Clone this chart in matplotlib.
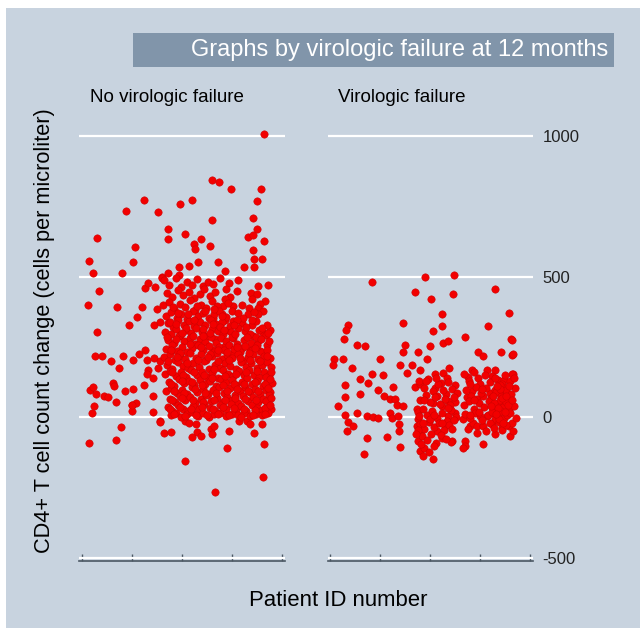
import matplotlib
matplotlib.use("Agg")
import matplotlib.pyplot as plt
from matplotlib.patches import Rectangle

plt.rcParams["font.family"] = ["Liberation Sans", "DejaVu Sans"]
plt.rcParams["axes.unicode_minus"] = False

# values: (patient id position, CD4 change)
no_failure_pts = [
    # sparse upper part
    (910, 1008), (648, 844), (685, 839), (747, 813), (897, 813), (310, 774), (490, 760),
    (548, 774), (873, 769), (218, 734), (380, 729), (648, 703), (853, 708), (428, 671),
    (873, 671), (73, 637), (428, 635), (515, 653), (593, 635), (560, 618), (567, 600),
    (828, 640), (853, 648), (910, 627), (267, 605), (642, 609), (853, 596), (37, 556),
    (255, 551), (680, 551), (860, 564), (898, 564), (53, 512), (198, 512), (485, 535),
    (535, 538), (580, 551), (715, 519), (808, 535), (860, 535), (428, 512), (485, 508),
    (398, 499),
    # left sparse part
    (85, 451), (28, 401), (173, 392), (298, 392), (373, 386), (273, 356), (237, 330),
    (361, 330), (390, 338), (73, 303), (315, 460), (332, 478), (365, 464), (398, 497),
    (65, 217), (98, 217), (143, 200), (203, 217), (185, 174), (257, 205), (287, 224),
    (317, 240), (323, 203), (362, 212), (332, 170), (323, 153), (357, 141), (382, 176),
    (390, 200), (40, 99), (57, 109), (68, 82), (112, 76), (132, 72), (168, 56), (153, 123),
    (162, 111), (215, 93), (257, 102), (312, 114), (353, 76), (248, 44), (268, 52),
    (62, 40), (48, 15), (248, 22), (353, 20), (390, -13),
    # below zero
    (248, 43), (193, -33), (37, -91), (168, -81), (390, -17), (412, -57), (445, -52),
    (515, -13), (535, -19), (568, -25), (548, -70), (573, -52), (593, -66), (645, -43),
    (648, -60), (660, -31), (737, -49), (787, -13), (823, -13), (860, -57), (840, -25),
    (898, -25), (515, -155), (723, -110), (910, -96), (903, -212), (665, -265),
    # right upper part
    (782, 490), (932, 472), (882, 466), (735, 478), (773, 451), (843, 443), (873, 439),
    (740, 427), (848, 422), (915, 413), (890, 404), (707, 395), (757, 395), (837, 389),
    (882, 389), (907, 377), (698, 366), (748, 377), (782, 372), (832, 366), (882, 366),
    (657, 354), (715, 348), (757, 342), (798, 336), (848, 330), (940, 312), (907, 301),
    (690, 318), (732, 312), (815, 306), (857, 289), (757, 283), (665, 277), (882, 271),
    (927, 259), (715, 253), (798, 248), (840, 241), (890, 235), (657, 241), (757, 224),
    # dense cloud
    (412, 488), (437, 471), (468, 495), (495, 462), (523, 483), (548, 470), (577, 492),
    (603, 466), (628, 481), (655, 473), (690, 497), (718, 455),
    (425, 441), (452, 429), (481, 452), (506, 436), (533, 447), (560, 425), (588, 439),
    (612, 458), (640, 430), (667, 446), (713, 422),
    (405, 398), (433, 412), (462, 385), (489, 404), (514, 391), (541, 417), (566, 383),
    (594, 401), (621, 389), (648, 413), (676, 396), (730, 408), (798, 401),
    (418, 362), (446, 375), (473, 355), (497, 369), (525, 351), (553, 378), (579, 360),
    (606, 372), (633, 353), (662, 366), (684, 379), (722, 358), (805, 352), (860, 376),
    (428, 334), (457, 322), (482, 347), (509, 329), (537, 341), (561, 324), (590, 338),
    (617, 327), (646, 345), (672, 331), (700, 339), (738, 325), (775, 346), (822, 322),
    (870, 341), (925, 329),
    (415, 305), (443, 297), (470, 316), (492, 293), (519, 310), (546, 299), (572, 318),
    (598, 302), (626, 291), (651, 314), (679, 306), (704, 296), (745, 303), (780, 317),
    (838, 298), (886, 312), (918, 294),
    (432, 275), (458, 266), (486, 288), (511, 270), (538, 283), (563, 262), (592, 279),
    (615, 268), (644, 286), (669, 264), (694, 281), (722, 270), (749, 287), (773, 261),
    (809, 276), (846, 266), (872, 285), (935, 272),
    (420, 244), (449, 256), (476, 236), (501, 251), (527, 232), (552, 247), (581, 258),
    (607, 239), (634, 253), (660, 234), (687, 249), (711, 238), (737, 257), (762, 242),
    (788, 231), (817, 254), (851, 240), (876, 258), (902, 233),
    (411, 214), (438, 226), (464, 205), (490, 219), (517, 208), (542, 228), (569, 212),
    (596, 224), (622, 203), (648, 217), (675, 229), (701, 206), (726, 221), (751, 210),
    (779, 227), (804, 201), (829, 216), (856, 225), (881, 207), (908, 219), (938, 211),
    (426, 185), (452, 172), (479, 196), (504, 181), (531, 175), (556, 193), (583, 178),
    (610, 199), (636, 171), (663, 188), (689, 176), (716, 194), (742, 183), (768, 171),
    (793, 197), (820, 180), (846, 192), (873, 174), (898, 187), (924, 198), (946, 178),
    (414, 155), (441, 166), (468, 147), (493, 160), (520, 143), (545, 168), (574, 151),
    (599, 162), (624, 145), (652, 158), (678, 141), (706, 169), (731, 153), (757, 146),
    (783, 164), (809, 149), (834, 167), (861, 152), (886, 143), (911, 161), (934, 150),
    (434, 126), (459, 112), (485, 137), (509, 121), (536, 131), (562, 115), (588, 134),
    (613, 119), (641, 128), (668, 111), (697, 138), (722, 124), (748, 132), (772, 114),
    (798, 127), (823, 139), (852, 118), (877, 131), (903, 113), (927, 135), (948, 122),
    (422, 93), (447, 105), (473, 86), (498, 99), (524, 82), (551, 108), (577, 91),
    (603, 101), (631, 84), (657, 96), (686, 109), (712, 88), (738, 103), (763, 81),
    (789, 95), (813, 107), (842, 89), (867, 102), (892, 84), (918, 98), (941, 90),
    (438, 66), (463, 54), (488, 75), (513, 61), (542, 72), (567, 52), (593, 67),
    (622, 78), (647, 57), (677, 69), (703, 53), (727, 74), (752, 63), (778, 51),
    (803, 77), (832, 58), (857, 71), (882, 55), (907, 66), (933, 78),
    (428, 37), (452, 24), (478, 45), (503, 31), (532, 22), (557, 41), (587, 28),
    (612, 47), (642, 35), (667, 21), (692, 43), (718, 30), (743, 48), (771, 26),
    (797, 39), (822, 23), (852, 44), (877, 32), (902, 25), (927, 41), (947, 29),
    (443, 8), (472, 15), (497, 3), (527, 12), (552, 18), (582, 6), (607, 14), (637, 2),
    (662, 11), (692, 17), (722, 5), (752, 13), (782, 9), (812, 16), (842, 4), (872, 12),
    (902, 7), (932, 16),
    # second, staggered layer of the cloud
    (455, 392), (480, 371), (528, 366), (575, 396), (615, 380), (660, 385), (700, 362),
    (440, 340), (468, 331), (520, 318), (560, 345), (604, 315), (655, 333), (690, 320),
    (760, 330), (850, 345), (900, 318),
    (425, 287), (470, 280), (500, 300), (555, 290), (605, 288), (640, 300), (712, 310),
    (765, 295), (825, 285), (895, 280), (930, 300),
    (445, 240), (490, 230), (540, 260), (595, 250), (640, 225), (680, 240), (725, 233),
    (775, 250), (835, 230), (865, 245), (925, 240),
    (430, 200), (475, 215), (525, 195), (580, 205), (630, 215), (680, 200), (735, 205),
    (790, 212), (840, 205), (890, 200), (925, 220),
    (450, 160), (505, 150), (560, 160), (610, 150), (660, 172), (715, 148), (770, 155),
    (820, 160), (875, 165), (920, 145), (945, 160),
    (445, 120), (500, 130), (550, 125), (600, 115), (650, 140), (705, 115), (760, 120),
    (810, 118), (865, 125), (915, 120), (940, 135),
    (460, 95), (510, 88), (565, 100), (615, 88), (670, 85), (725, 95), (775, 100),
    (830, 95), (880, 92), (930, 105),
    (450, 62), (500, 70), (555, 62), (605, 55), (660, 60), (715, 63), (765, 70),
    (815, 64), (870, 60), (920, 58), (945, 70),
    (440, 30), (490, 38), (545, 30), (600, 37), (655, 30), (705, 36), (760, 35),
    (810, 30), (865, 27), (915, 34), (940, 45),
    (460, 12), (515, 5), (570, 10), (625, 8), (680, 12), (735, 10), (795, 3),
    (855, 10), (915, 12),
]

failure_pts = [
    (212, 480), (475, 498), (618, 508), (425, 445), (507, 422), (613, 440), (825, 458),
    (558, 366), (895, 370), (363, 336), (88, 330), (82, 312), (558, 324), (513, 306),
    (788, 324), (70, 277), (675, 285), (905, 277), (133, 258), (175, 253), (375, 259),
    (567, 265), (592, 271), (500, 253), (22, 206), (13, 188), (63, 209), (250, 206),
    (367, 232), (438, 233), (483, 209), (742, 233), (767, 218), (855, 232), (912, 221),
    (350, 185), (412, 187), (450, 170), (108, 174), (208, 153), (267, 152), (383, 159),
    (525, 156), (595, 174), (567, 159), (583, 141), (708, 170), (692, 143), (742, 141),
    (783, 170), (825, 170), (808, 147), (842, 132), (872, 132), (913, 156), (858, 117),
    (150, 138), (188, 121), (75, 114), (242, 99), (150, 82), (75, 73), (270, 76),
    (317, 108), (300, 66), (325, 64), (337, 43), (367, 40), (425, 109), (450, 117),
    (525, 105), (553, 123), (580, 82), (533, 76), (625, 114), (592, 58), (625, 54),
    (517, 52), (558, 40), (708, 93), (683, 73), (733, 64), (767, 76), (800, 87),
    (825, 99), (850, 93), (875, 105), (892, 64), (883, 40), (858, 52), (833, 34),
    (817, 17), (783, 5), (42, 40), (75, 7), (92, -17), (87, -49), (117, -31), (133, 14),
    (183, 5), (217, 2), (242, -1), (183, -75), (172, -131), (283, -70), (300, 14),
    (308, -1), (342, 5), (347, -25), (345, -49), (350, -105), (433, 28), (438, -7),
    (433, -31), (450, -54), (442, -84), (450, -120), (467, -137), (517, -149),
    (533, -49), (558, -72), (608, -84), (575, -31), (592, 5), (625, 17), (667, -7),
    (675, -84), (675, -102), (700, -31), (717, -19), (733, -31), (750, 5), (767, -31),
    (808, -25), (825, -60), (858, -37), (897, -31), (908, -19), (900, -66), (767, -96),
    (908, 274), (913, 224), (908, 156), (667, -108), (605, -88),
    # denser groups
    (445, 128), (470, 104), (492, 135), (515, 92), (540, 118), (563, 97), (588, 126),
    (610, 101), (633, 88),
    (452, 62), (478, 79), (501, 55), (526, 71), (549, 48), (574, 66), (598, 44), (621, 73),
    (440, 18), (463, 31), (487, 9), (511, 24), (536, -4), (560, 15), (584, -12),
    (606, 27), (630, 3),
    (448, -22), (472, -41), (497, -15), (520, -33), (545, -19), (569, -46), (593, -27),
    (458, -66), (483, -82), (506, -58), (530, -91), (555, -64), (580, -77),
    (470, -110), (495, -124), (520, -103),
    (672, 155), (697, 128), (722, 162), (748, 117), (773, 149), (798, 125), (823, 141),
    (848, 116), (873, 150), (898, 128), (922, 139),
    (680, 98), (705, 76), (730, 109), (755, 85), (780, 103), (805, 68), (830, 91),
    (855, 77), (880, 96), (905, 82), (927, 104),
    (668, 44), (693, 59), (718, 31), (745, 52), (770, 38), (795, 57), (815, 29),
    (835, 48), (850, 62), (865, 36), (880, 53), (895, 25), (918, 41),
    (675, 12), (700, -3), (725, 16), (760, -8), (790, 7), (810, 18), (825, -6),
    (840, 10), (855, 22), (870, -2), (885, 9), (900, 17), (930, -4),
    (690, -42), (735, -55), (780, -47), (800, -20), (820, -38), (845, -15), (862, -44),
    (880, -26), (915, -48),
    (820, 50), (840, 35), (860, 70), (875, 20), (890, 45), (845, -5), (830, 12),
    (865, -20), (805, 40), (880, 75), (910, 60), (850, 100), (815, 75), (835, 110),
    (895, 110),
    (440, -45), (455, -95), (465, -20), (430, -60), (445, 5), (470, 60), (500, -5),
    (520, 10), (560, -20), (590, 35), (620, -10), (610, -40), (480, 130), (530, 140),
    (700, 120), (720, 60), (745, 20), (760, 100), (700, 10),
]

panel_titles = ["No virologic failure", "Virologic failure"]
y_ticks = [-500, 0, 500, 1000]
x_ticks = [0, 250, 500, 750, 1000]

bg = "#c8d3df"
fig = plt.figure(figsize=(6.4, 6.33), dpi=100)
fig.patch.set_facecolor("white")
fig.patches.append(Rectangle((6 / 640, 5 / 633), 1, 620 / 633, transform=fig.transFigure,
                             facecolor=bg, edgecolor="none", zorder=-2))

# title box
fig.patches.append(Rectangle((133 / 640, 1 - 67 / 633), 481 / 640, 34 / 633,
                             transform=fig.transFigure, facecolor="#8195aa",
                             edgecolor="none", zorder=-1))
fig.text(608 / 640, 1 - 50 / 633, "Graphs by virologic failure at 12 months",
         ha="right", va="center", color="white", fontsize=17)

bottom = 1 - 561 / 633
top = 1 - 125 / 633
ax1 = fig.add_axes([79 / 640, bottom, 206 / 640, top - bottom])
ax2 = fig.add_axes([328 / 640, bottom, 205 / 640, top - bottom])

for ax, pts, xlim in [(ax1, no_failure_pts, (-15, 1015)), (ax2, failure_pts, (-10, 1015))]:
    xs = [p[0] for p in pts]
    ys = [p[1] for p in pts]
    ax.set_zorder(3)
    ax.set_facecolor("none")
    ax.scatter(xs, ys, s=28, color="#f20000", edgecolor="#d00000", linewidth=0.4, zorder=3)
    ax.set_xlim(*xlim)
    ax.set_ylim(-511, 1040)
    ax.set_yticks(y_ticks)
    ax.set_xticks(x_ticks)
    ax.set_xticklabels([])
    ax.grid(axis="y", color="white", linewidth=1.6)
    ax.set_axisbelow(True)
    for side in ["top", "left", "right"]:
        ax.spines[side].set_visible(False)
    ax.spines["bottom"].set_color("#4b5763")
    ax.spines["bottom"].set_linewidth(1.2)
    ax.tick_params(axis="x", direction="in", length=5, width=1, color="#4b5763")

ax1.tick_params(axis="y", length=0, labelleft=False)
ax2.yaxis.tick_right()
ax2.tick_params(axis="y", length=0, pad=7, labelsize=12, labelcolor="#222222")

fig.text(90 / 640, 1 - 98 / 633, panel_titles[0], ha="left", va="center", fontsize=13.5)
fig.text(338 / 640, 1 - 98 / 633, panel_titles[1], ha="left", va="center", fontsize=13.5)

fig.text(45 / 640, 1 - 331 / 633, "CD4+ T cell count change (cells per microliter)",
         rotation=90, ha="center", va="center", fontsize=15.7)
fig.text(338 / 640, 1 - 601 / 633, "Patient ID number", ha="center", va="center", fontsize=15.9)

plt.savefig("out.png", dpi=100)
